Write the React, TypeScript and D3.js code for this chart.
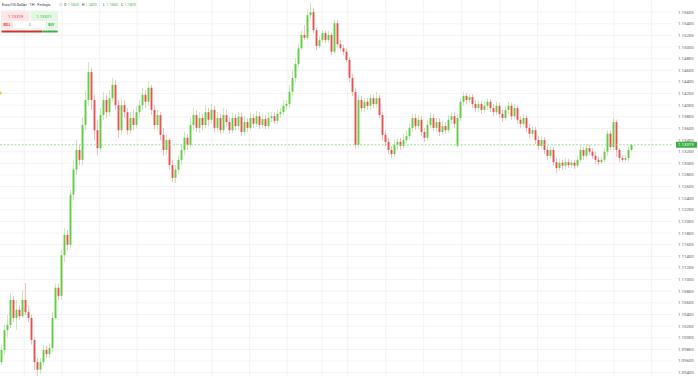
import React from "react";
import * as d3 from "d3";

// ---- DATA (EUR/USD, 1H candles) ----
const opens = [1.0958,1.0979,1.1013,1.1022,1.1065,1.1034,1.1048,1.1037,1.1065,1.1044,
1.1034,1.0996,1.0958,1.0945,1.0958,1.0979,1.0972,1.0982,1.1034,1.1086,
1.1072,1.1142,1.1177,1.1160,1.1246,1.1289,1.1323,1.1306,1.1366,1.1409,
1.1457,1.1409,1.1357,1.1326,1.1383,1.1409,1.1388,1.1412,1.1435,1.1400,
1.1357,1.1400,1.1388,1.1357,1.1378,1.1366,1.1388,1.1400,1.1418,1.1406,
1.1430,1.1392,1.1366,1.1383,1.1349,1.1323,1.1340,1.1297,1.1275,1.1289,
1.1306,1.1323,1.1344,1.1332,1.1366,1.1383,1.1361,1.1378,1.1366,1.1388,
1.1375,1.1392,1.1361,1.1378,1.1357,1.1383,1.1371,1.1357,1.1378,1.1364,
1.1380,1.1354,1.1371,1.1361,1.1378,1.1368,1.1381,1.1366,1.1376,1.1364,
1.1378,1.1381,1.1373,1.1385,1.1388,1.1399,1.1402,1.1423,1.1447,1.1471,
1.1498,1.1521,1.1516,1.1555,1.1560,1.1529,1.1502,1.1512,1.1524,1.1512,
1.1521,1.1492,1.1541,1.1505,1.1498,1.1492,1.1478,1.1447,1.1423,1.1332,
1.1409,1.1395,1.1406,1.1399,1.1412,1.1402,1.1412,1.1383,1.1349,1.1337,
1.1323,1.1316,1.1332,1.1337,1.1330,1.1340,1.1347,1.1361,1.1378,1.1364,
1.1375,1.1354,1.1344,1.1366,1.1378,1.1361,1.1371,1.1354,1.1364,1.1357,
1.1375,1.1381,1.1330,1.1378,1.1406,1.1416,1.1409,1.1414,1.1402,1.1395,
1.1402,1.1392,1.1399,1.1406,1.1395,1.1388,1.1399,1.1385,1.1378,1.1392,
1.1399,1.1381,1.1395,1.1375,1.1368,1.1378,1.1361,1.1351,1.1357,1.1340,
1.1330,1.1340,1.1323,1.1313,1.1323,1.1302,1.1292,1.1301,1.1296,1.1302,
1.1297,1.1301,1.1296,1.1306,1.1323,1.1313,1.1326,1.1320,1.1313,1.1306,
1.1302,1.1306,1.1320,1.1351,1.1328,1.1371,1.1323,1.1309,1.1306,1.1309,
1.1323];

const highs = [1.0988,1.1022,1.1039,1.1077,1.1072,1.1065,1.1056,1.1082,1.1094,1.1056,
1.1039,1.1000,1.0965,1.0965,1.0988,1.0986,1.0991,1.1044,1.1093,1.1093,
1.1151,1.1189,1.1185,1.1254,1.1306,1.1340,1.1332,1.1378,1.1426,1.1474,
1.1464,1.1418,1.1375,1.1395,1.1423,1.1418,1.1426,1.1447,1.1443,1.1409,
1.1412,1.1409,1.1395,1.1388,1.1392,1.1399,1.1409,1.1430,1.1426,1.1440,
1.1435,1.1400,1.1392,1.1388,1.1361,1.1349,1.1344,1.1306,1.1297,1.1314,
1.1332,1.1354,1.1351,1.1378,1.1395,1.1392,1.1388,1.1385,1.1400,1.1395,
1.1402,1.1399,1.1388,1.1385,1.1395,1.1392,1.1380,1.1387,1.1385,1.1388,
1.1387,1.1381,1.1378,1.1387,1.1385,1.1390,1.1388,1.1385,1.1383,1.1387,
1.1388,1.1388,1.1392,1.1395,1.1409,1.1409,1.1435,1.1461,1.1481,1.1505,
1.1529,1.1538,1.1564,1.1576,1.1567,1.1533,1.1519,1.1529,1.1528,1.1528,
1.1524,1.1547,1.1547,1.1512,1.1504,1.1497,1.1483,1.1454,1.1430,1.1418,
1.1416,1.1412,1.1412,1.1419,1.1418,1.1423,1.1418,1.1388,1.1357,1.1344,
1.1330,1.1340,1.1344,1.1344,1.1349,1.1357,1.1368,1.1385,1.1385,1.1383,
1.1381,1.1361,1.1375,1.1387,1.1385,1.1378,1.1378,1.1373,1.1371,1.1383,
1.1388,1.1388,1.1385,1.1412,1.1423,1.1421,1.1419,1.1419,1.1409,1.1409,
1.1407,1.1406,1.1412,1.1411,1.1402,1.1406,1.1404,1.1392,1.1399,1.1406,
1.1404,1.1402,1.1400,1.1381,1.1385,1.1383,1.1368,1.1364,1.1363,1.1347,
1.1347,1.1345,1.1330,1.1330,1.1328,1.1309,1.1308,1.1306,1.1309,1.1308,
1.1306,1.1306,1.1313,1.1330,1.1328,1.1333,1.1332,1.1326,1.1320,1.1311,
1.1311,1.1326,1.1357,1.1357,1.1378,1.1375,1.1326,1.1313,1.1314,1.1328,
1.1333];

const lows = [1.0952,1.0972,1.1000,1.1017,1.1027,1.1013,1.1031,1.1034,1.1039,1.1027,
1.0988,1.0945,1.0931,1.0938,1.0952,1.0965,1.0965,1.0976,1.1031,1.1065,
1.1065,1.1130,1.1151,1.1154,1.1237,1.1280,1.1297,1.1297,1.1357,1.1400,
1.1392,1.1340,1.1314,1.1320,1.1375,1.1378,1.1381,1.1406,1.1392,1.1344,
1.1349,1.1378,1.1349,1.1351,1.1357,1.1361,1.1378,1.1392,1.1395,1.1399,
1.1383,1.1357,1.1357,1.1340,1.1313,1.1314,1.1289,1.1268,1.1266,1.1282,
1.1297,1.1314,1.1323,1.1326,1.1357,1.1354,1.1352,1.1357,1.1361,1.1364,
1.1368,1.1354,1.1354,1.1351,1.1352,1.1363,1.1351,1.1352,1.1357,1.1357,
1.1347,1.1349,1.1354,1.1356,1.1361,1.1363,1.1359,1.1361,1.1359,1.1359,
1.1371,1.1368,1.1368,1.1378,1.1383,1.1392,1.1395,1.1418,1.1440,1.1466,
1.1495,1.1512,1.1512,1.1550,1.1523,1.1495,1.1498,1.1507,1.1507,1.1507,
1.1486,1.1488,1.1500,1.1493,1.1486,1.1474,1.1440,1.1416,1.1326,1.1326,
1.1388,1.1388,1.1392,1.1392,1.1395,1.1395,1.1378,1.1340,1.1330,1.1316,
1.1309,1.1311,1.1323,1.1323,1.1325,1.1335,1.1340,1.1354,1.1357,1.1359,
1.1347,1.1337,1.1339,1.1361,1.1356,1.1354,1.1347,1.1349,1.1351,1.1352,
1.1368,1.1361,1.1326,1.1373,1.1399,1.1402,1.1404,1.1395,1.1388,1.1388,
1.1385,1.1387,1.1392,1.1388,1.1381,1.1383,1.1378,1.1371,1.1373,1.1385,
1.1375,1.1376,1.1368,1.1361,1.1363,1.1354,1.1344,1.1345,1.1333,1.1323,
1.1325,1.1316,1.1306,1.1308,1.1296,1.1283,1.1287,1.1289,1.1290,1.1292,
1.1292,1.1290,1.1292,1.1302,1.1306,1.1309,1.1314,1.1308,1.1299,1.1297,
1.1299,1.1301,1.1313,1.1323,1.1323,1.1311,1.1302,1.1302,1.1302,1.1302,
1.1320];

const closes = [1.0979,1.1013,1.1022,1.1065,1.1034,1.1048,1.1037,1.1065,1.1044,1.1034,
1.0996,1.0958,1.0945,1.0958,1.0979,1.0972,1.0982,1.1034,1.1086,1.1072,
1.1142,1.1177,1.1160,1.1246,1.1289,1.1323,1.1306,1.1366,1.1409,1.1457,
1.1409,1.1357,1.1326,1.1383,1.1409,1.1388,1.1412,1.1435,1.1400,1.1357,
1.1400,1.1388,1.1357,1.1378,1.1366,1.1388,1.1400,1.1418,1.1406,1.1430,
1.1392,1.1366,1.1383,1.1349,1.1323,1.1340,1.1297,1.1275,1.1289,1.1306,
1.1323,1.1344,1.1332,1.1366,1.1383,1.1361,1.1378,1.1366,1.1388,1.1375,
1.1392,1.1361,1.1378,1.1357,1.1383,1.1371,1.1357,1.1378,1.1364,1.1380,
1.1354,1.1371,1.1361,1.1378,1.1368,1.1381,1.1366,1.1376,1.1364,1.1378,
1.1381,1.1373,1.1385,1.1388,1.1399,1.1402,1.1423,1.1447,1.1471,1.1498,
1.1521,1.1516,1.1555,1.1560,1.1529,1.1502,1.1512,1.1524,1.1512,1.1521,
1.1492,1.1541,1.1505,1.1498,1.1492,1.1478,1.1447,1.1423,1.1332,1.1409,
1.1395,1.1406,1.1399,1.1412,1.1402,1.1412,1.1383,1.1349,1.1337,1.1323,
1.1316,1.1332,1.1337,1.1330,1.1340,1.1347,1.1361,1.1378,1.1364,1.1375,
1.1354,1.1344,1.1366,1.1378,1.1361,1.1371,1.1354,1.1364,1.1357,1.1375,
1.1381,1.1368,1.1378,1.1406,1.1416,1.1409,1.1414,1.1402,1.1395,1.1402,
1.1392,1.1399,1.1406,1.1395,1.1388,1.1399,1.1385,1.1378,1.1392,1.1399,
1.1381,1.1395,1.1375,1.1368,1.1378,1.1361,1.1351,1.1357,1.1340,1.1330,
1.1340,1.1323,1.1313,1.1323,1.1302,1.1292,1.1301,1.1296,1.1302,1.1297,
1.1301,1.1296,1.1306,1.1323,1.1313,1.1326,1.1320,1.1313,1.1306,1.1302,
1.1306,1.1320,1.1351,1.1328,1.1371,1.1323,1.1309,1.1306,1.1309,1.1323,
1.1332];

const priceTicks = [1.094,1.096,1.098,1.100,1.102,1.104,1.106,1.108,1.110,1.112,
1.114,1.116,1.118,1.120,1.122,1.124,1.126,1.128,1.130,1.132,1.134,1.136,1.138,
1.140,1.142,1.144,1.146,1.148,1.150,1.152,1.154,1.156];

// day boundaries, in bar positions
const dayBreaks = [7.6,20.2,32.7,45.2,57.7,70.2,82.7,95.2,106.8,115.4,128.1,140.7,153.4,166.1,178.7,191.4,204.1,216.7];

const lastPrice = 1.13319;
const bidPrice = "1.13319";
const askPrice = "1.13321";
const spread = "2";
const title = "Euro/US Dollar · 1H · Finlogix";
const ohlcLabels = ["O", "H", "L", "C"];
const ohlcValues = ["1.13620", "1.14010", "1.13600", "1.13670"];

const W = 698, H = 376;
const UP = "#5ccb3a", DOWN = "#ea4a47";
const FONT = "Roboto, 'Open Sans', Arial, sans-serif";

export default function App() {
  const n = closes.length;
  const x = d3.scaleLinear().domain([0, n - 1]).range([1.5, 631.5]);
  const y = d3.scaleLinear().domain([1.094, 1.156]).range([372.6, 12.2]);
  const fmt = d3.format(".5f");
  const bodyW = 1.9;
  const gridRight = 672;
  const lpY = y(lastPrice);

  const ohlcX = [64, 82, 103, 121];

  return (
    <svg width={W} height={H} style={{ position: "fixed", left: 0, top: 0, background: "#fff" }} fontFamily={FONT}>
      <rect x={0} y={0} width={W} height={H} fill="#fff" />
      {/* grid */}
      {priceTicks.map((t) => (
        <line key={"h" + t} x1={0} x2={gridRight} y1={y(t)} y2={y(t)} stroke="#f0f0f0" strokeWidth={0.8} />
      ))}
      {dayBreaks.map((d) => (
        <line key={"v" + d} x1={x(d)} x2={x(d)} y1={0} y2={H} stroke="#f0f0f0" strokeWidth={0.8} />
      ))}
      {/* candles */}
      <g>
        {closes.map((c, i) => {
          const o = opens[i];
          const up = c >= o;
          const col = up ? UP : DOWN;
          const cx = x(i);
          const top = y(Math.max(o, c));
          const bot = y(Math.min(o, c));
          return (
            <g key={i}>
              <line x1={cx} x2={cx} y1={y(highs[i])} y2={y(lows[i])} stroke={col} strokeOpacity={0.4} strokeWidth={0.9} />
              <rect x={cx - bodyW / 2} y={top} width={bodyW} height={Math.max(0.8, bot - top)} fill={col} fillOpacity={0.95} />
            </g>
          );
        })}
      </g>
      {/* last price line */}
      <line x1={0} x2={gridRight} y1={lpY} y2={lpY} stroke="#7ad87a" strokeWidth={0.8} strokeDasharray="2 1.6" />
      {/* axis labels */}
      {priceTicks.map((t) => (
        <text key={"l" + t} x={678} y={y(t)} dy="0.35em" fontSize={4.3} fill="#666">{fmt(t)}</text>
      ))}
      <rect x={676} y={lpY - 3} width={21} height={6} fill="#3cb043" rx={0.5} />
      <text x={678} y={lpY} dy="0.35em" fontSize={4.3} fill="#fff">{fmt(lastPrice)}</text>
      {/* yellow marker */}
      <path d="M0,91 L2.2,93 L0,95 Z" fill="#e8d23a" />
      {/* header */}
      <text x={2} y={5.8} fontSize={3.8} fill="#333">{title}</text>
      <circle cx={60.5} cy={4.6} r={1.1} fill="none" stroke="#999" strokeWidth={0.4} />
      {ohlcLabels.map((l, i) => (
        <g key={l}>
          <text x={ohlcX[i]} y={5.8} fontSize={3.4} fill="#333">{l}</text>
          <text x={ohlcX[i] + 3.6} y={5.8} fontSize={3.1} fill="#3cb043">{ohlcValues[i]}</text>
        </g>
      ))}
      {/* trade widget */}
      <rect x={1.5} y={11} width={56} height={18} fill="#fff" stroke="#e2e2e2" strokeWidth={0.5} />
      <rect x={1.8} y={11.3} width={27.7} height={9.5} fill="#fde6e6" />
      <rect x={30.5} y={11.3} width={26.7} height={9.5} fill="#e3f7e3" />
      <text x={15.6} y={16.2} dy="0.35em" textAnchor="middle" fontSize={4.2} fill="#e53935">{bidPrice}</text>
      <text x={43.9} y={16.2} dy="0.35em" textAnchor="middle" fontSize={4.2} fill="#3cb043">{askPrice}</text>
      <rect x={1.8} y={21.6} width={11.5} height={7.1} fill="#fde6e6" />
      <rect x={45.5} y={21.6} width={11.7} height={7.1} fill="#e3f7e3" />
      <text x={3.2} y={25.2} dy="0.35em" fontSize={3.2} fill="#e53935" fontWeight="bold">SELL</text>
      <text x={29.6} y={25.2} dy="0.35em" textAnchor="middle" fontSize={3.4} fill="#555">{spread}</text>
      <text x={48.2} y={25.2} dy="0.35em" fontSize={3.2} fill="#3cb043" fontWeight="bold">BUY</text>
      <rect x={1.5} y={30.4} width={40.8} height={2.1} fill="#d32f2f" rx={0.6} />
      <rect x={42.3} y={30.4} width={15.4} height={2.1} fill="#3cb043" rx={0.6} />
    </svg>
  );
}
